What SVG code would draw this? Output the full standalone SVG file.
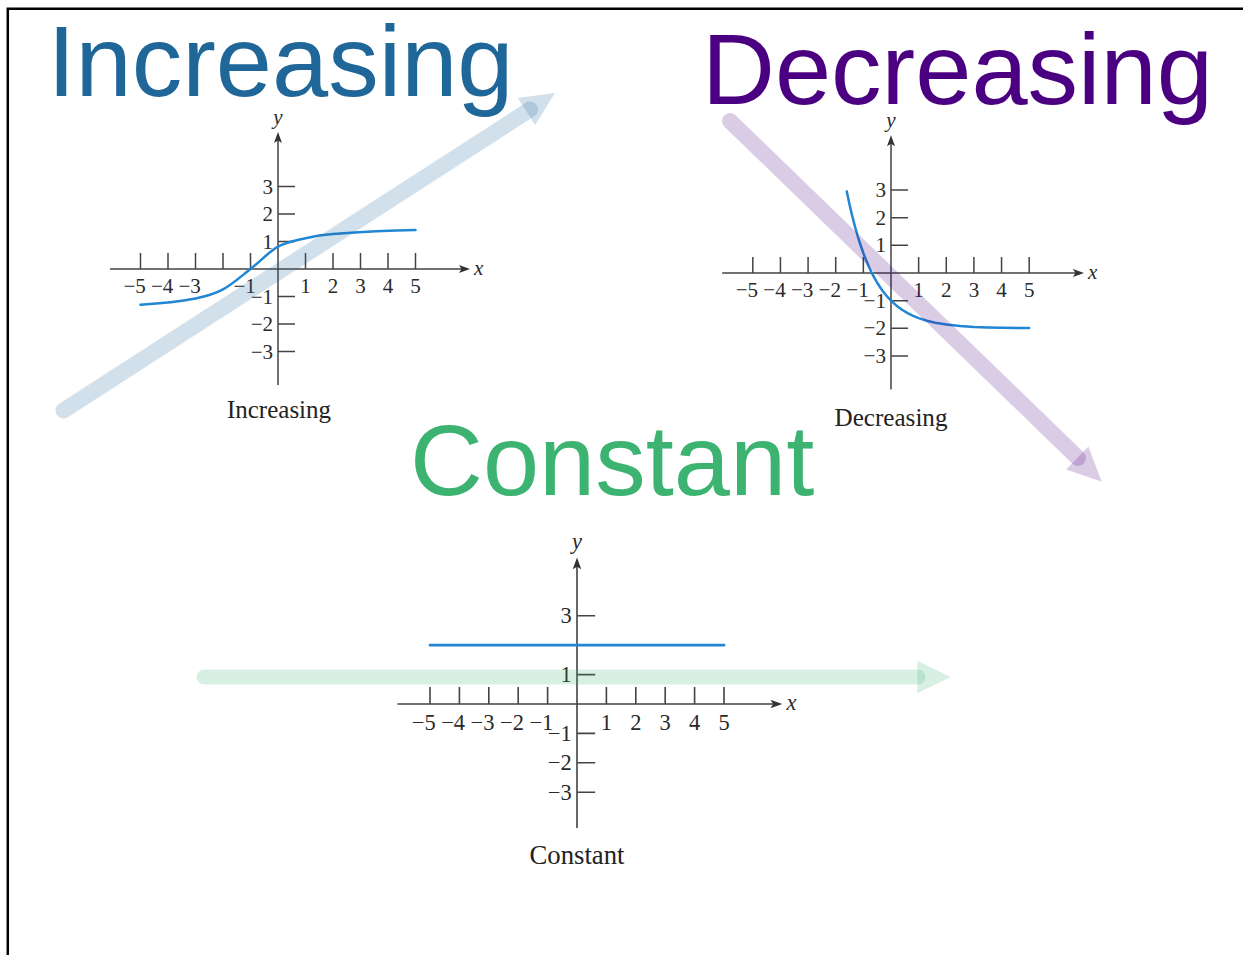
<svg xmlns="http://www.w3.org/2000/svg" xmlns:xlink="http://www.w3.org/1999/xlink" width="1243" height="955" viewBox="0 0 1243 955">
<style>
.title{font-family:"Liberation Sans",Arial,sans-serif;font-size:101px}
.axis{fill:none;stroke:#444;stroke-width:1.5}
.axhead{fill:#333;stroke:none}
.tl{font-family:"Liberation Serif","Times New Roman",serif;font-size:21px;fill:#2a2a2a}
.var{font-family:"Liberation Serif","Times New Roman",serif;font-size:21px;font-style:italic;fill:#2a2a2a}
.cap{font-family:"Liberation Serif","Times New Roman",serif;font-size:25px;fill:#222;text-anchor:middle}
.curve{fill:none;stroke:#2186d4;stroke-width:2.5;stroke-linecap:round;stroke-linejoin:round}
.shaft{fill:none;stroke-linecap:round;stroke-opacity:0.2}
.head{stroke:none;fill-opacity:0.2}
</style>
<defs>
<g id="axes">
<path class="axis" d="M-168,0H184 M0,116V-129 M-137.5,0v-16 M-110,0v-16 M-82.5,0v-16 M-55,0v-16 M-27.5,0v-16 M27.5,0v-16 M55,0v-16 M82.5,0v-16 M110,0v-16 M137.5,0v-16 M0,-82.5h17 M0,-55h17 M0,-27.5h17 M0,27.5h17 M0,55h17 M0,82.5h17"/>
<path class="axhead" d="M192,0 L181,-4 L183.5,0 L181,4Z M0,-137 L-4,-126 L0,-128.5 L4,-126Z"/>
<text class="var" x="196" y="6">x</text>
<text class="var" x="0" y="-145" text-anchor="middle">y</text>
</g>
<g id="xlabels">
<text class="tl" text-anchor="end" x="-132.2" y="24">−5</text>
<text class="tl" text-anchor="end" x="-104.7" y="24">−4</text>
<text class="tl" text-anchor="end" x="-77.2" y="24">−3</text>
<text class="tl" text-anchor="end" x="-22.2" y="24">−1</text>
<text class="tl" text-anchor="middle" x="27.5" y="24">1</text>
<text class="tl" text-anchor="middle" x="55" y="24">2</text>
<text class="tl" text-anchor="middle" x="82.5" y="24">3</text>
<text class="tl" text-anchor="middle" x="110" y="24">4</text>
<text class="tl" text-anchor="middle" x="137.5" y="24">5</text>
</g>
<g id="ylabels">
<text class="tl" text-anchor="end" x="-5" y="-75.5">3</text>
<text class="tl" text-anchor="end" x="-5" y="-20.5">1</text>
<text class="tl" text-anchor="end" x="-5" y="34.5">−1</text>
<text class="tl" text-anchor="end" x="-5" y="62">−2</text>
<text class="tl" text-anchor="end" x="-5" y="89.5">−3</text>
</g>
</defs>

<path id="frame" d="M7.8,955 V8.8 H1243" fill="none" stroke="#000" stroke-width="2.5"/>

<g id="title-increasing"><text class="title" x="47.5" y="96" fill="#1f6699">Increasing</text></g>
<g id="title-decreasing"><text class="title" x="702" y="104" fill="#4b0082">Decreasing</text></g>
<g id="title-constant"><text class="title" x="410" y="495" fill="#3cb371">Constant</text></g>

<g id="graph-increasing" transform="translate(278,269)">
<use xlink:href="#axes"/>
<use xlink:href="#xlabels"/>
<use xlink:href="#ylabels"/>
<text class="tl" text-anchor="end" x="-5" y="-48">2</text>
<path class="curve" d="M-137.5,35.75 C-119.2,34.5 -100.8,32.8 -82.5,29.4 C-73.3,27.7 -64.2,25.3 -55,20.4 C-45.8,15.5 -36.7,7.1 -27.5,0 C-18.3,-7.1 -9.2,-17.2 0,-22.3 C9.2,-27.4 18.3,-28.7 27.5,-30.8 C36.7,-32.9 45.8,-34.2 55,-34.9 C82.5,-37 110,-38.5 137.5,-39"/>
<text class="cap" x="1" y="149">Increasing</text>
</g>

<g id="graph-decreasing" transform="translate(891,273) scale(1.005)">
<use xlink:href="#axes"/>
<use xlink:href="#xlabels"/>
<use xlink:href="#ylabels"/>
<text class="tl" text-anchor="end" x="-49.7" y="24">−2</text>
<text class="tl" text-anchor="end" x="-5" y="-48">2</text>
<polyline class="curve" points="-44,-81.2 -41.25,-68.25 -38.5,-56.5 -35.75,-45.9 -33,-36.3 -30.25,-27.6 -27.5,-19.75 -24.75,-12.64 -22,-6.2 -19.25,-0.38 -16.5,4.9 -13.75,9.66 -11,13.97 -8.25,17.88 -5.5,21.42 -2.75,24.61 0,27.5 5.5,32.49 11,36.57 16.5,39.91 22,42.64 27.5,44.88 35.75,47.51 44,49.45 55,51.28 68.75,52.74 82.5,53.63 96.25,54.17 110,54.5 137.5,54.82"/>
<text class="cap" x="0" y="152">Decreasing</text>
</g>

<g id="graph-constant" transform="translate(577,704) scale(1.069)">
<use xlink:href="#axes"/>
<use xlink:href="#xlabels"/>
<use xlink:href="#ylabels"/>
<text class="tl" text-anchor="end" x="-49.7" y="24">−2</text>
<path class="curve" d="M-137.5,-55 H137.5"/>
<text class="cap" x="0" y="150">Constant</text>
</g>

<g id="arrows">
<g id="arrow-increasing">
<path class="shaft" d="M63.5,410.5 L530,109.5" stroke="#1f6699" stroke-width="16"/>
<polygon class="head" points="555,93 535.1,124.9 517.7,97.9" fill="#1f6699"/>
</g>
<g id="arrow-decreasing">
<path class="shaft" d="M730,121 L1078,458" stroke="#4b0082" stroke-width="16"/>
<polygon class="head" points="1101.7,481.7 1066.2,469.5 1088.4,446.5" fill="#4b0082"/>
</g>
<g id="arrow-constant">
<path class="shaft" d="M204,677 L918,677" stroke="#3cb371" stroke-width="15"/>
<polygon class="head" points="950.7,677 917.3,660.7 917.3,693.3" fill="#3cb371"/>
</g>
</g>
</svg>
